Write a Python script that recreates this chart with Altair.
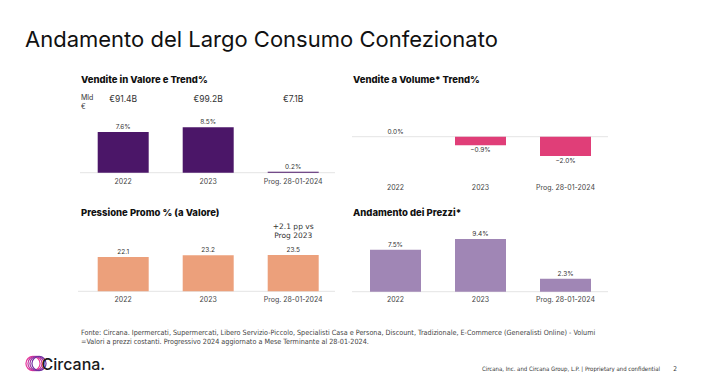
import altair as alt
import pandas as pd

# ---------------- data ----------------
categories = ["2022", "2023", "Prog. 28-01-2024"]
valore_trend = [7.6, 8.5, 0.2]
valore_mld = ["€91.4B", "€99.2B", "€7.1B"]
volume_trend = [0.0, -0.9, -2.0]
promo = [22.1, 23.2, 23.5]
prezzi = [7.5, 9.4, 2.3]

title_text = "Andamento del Largo Consumo Confezionato"
panel_titles = ["Vendite in Valore e Trend%", "Vendite a Volume* Trend%",
                "Pressione Promo % (a Valore)", "Andamento dei Prezzi*"]
unit_label = ["Mld", "€"]
promo_note = ["+2.1 pp vs", "Prog 2023"]
footer_lines = [
    "Fonte: Circana. Ipermercati, Supermercati, Libero Servizio-Piccolo, Specialisti Casa e Persona, Discount, Tradizionale, E-Commerce (Generalisti Online) - Volumi",
    "=Valori a prezzi costanti. Progressivo 2024 aggiornato a Mese Terminante al 28-01-2024.",
]
brand = "Circana."
copyright_text = "Circana, Inc. and Circana Group, L.P. | Proprietary and confidential"
page_number = "2"
logo_colors = ["#e8379a", "#c1359f", "#9a34a3", "#7030a0"]

df = pd.DataFrame({
    "cat": categories,
    "valore": valore_trend,
    "mld": valore_mld,
    "volume": volume_trend,
    "promo": promo,
    "prezzi": prezzi,
})

# ---------------- style ----------------
FONT = "Inter, Lato, sans-serif"
NARROW = "Liberation Sans Narrow, DejaVu Sans Condensed, Roboto, sans-serif"
C_VAL = "#4b1668"
C_VOL = "#e03e78"
C_PROMO = "#eca07b"
C_PREZZI = "#a086b5"
C_RULE = "#e4e4e4"
C_TXT = "#333333"

LEFT_X = [72.7, 327.7]
RIGHT_X = [345.0, 600.0]


def xenc(rng):
    return alt.X("cat:N", sort=categories, axis=None,
                 scale=alt.Scale(domain=categories, range=rng,
                                 paddingInner=0.4, paddingOuter=0.2))


def yenc(field, dom, rng):
    return alt.Y(f"{field}:Q", axis=None,
                 scale=alt.Scale(domain=dom, range=rng, nice=False))


def static_text(text, x, y, **kw):
    return alt.Chart(pd.DataFrame({"t": [text]})).mark_text(**kw).encode(
        x=alt.value(x), y=alt.value(y), text="t:N")


def panel(field, color, xr, dom, yr, rule_x, cat_y, fmt_pct=True):
    base = alt.Chart(df).transform_calculate(
        lab=(f"format(datum.{field}, '.1f') + '%'" if fmt_pct
             else f"format(datum.{field}, '.1f')")
    )
    rule = alt.Chart(pd.DataFrame({"z": [0]})).mark_rule(
        color=C_RULE, strokeWidth=1).encode(
        y=alt.Y("z:Q", axis=None, scale=alt.Scale(domain=dom, range=yr, nice=False)),
        x=alt.value(rule_x[0]), x2=alt.value(rule_x[1]))
    bars = base.mark_bar(color=color).encode(
        x=xenc(xr), y=yenc(field, dom, yr))
    pos = base.transform_filter(f"datum.{field} >= 0").mark_text(
        baseline="bottom", dy=-2, fontSize=6.5, color=C_TXT, font=FONT).encode(
        x=xenc(xr), y=yenc(field, dom, yr), text="lab:N")
    neg = base.transform_filter(f"datum.{field} < 0").mark_text(
        baseline="top", dy=2, fontSize=6.5, color=C_TXT, font=FONT).encode(
        x=xenc(xr), y=yenc(field, dom, yr), text="lab:N")
    cats = alt.Chart(df).mark_text(
        baseline="middle", fontSize=7, color="#444444", font=FONT).encode(
        x=xenc(xr), y=alt.value(cat_y), text="cat:N")
    return [rule, bars, pos, neg, cats]


layers = []
# Panel 1: Vendite in Valore
layers += panel("valore", C_VAL, LEFT_X, [0, 10], [164.7, 111.2], [72, 327], 173.7)
layers.append(alt.Chart(df).mark_text(fontSize=8.5, color=C_TXT, font=FONT, baseline="middle").encode(
    x=xenc(LEFT_X), y=alt.value(91.3), text="mld:N"))
layers.append(static_text(unit_label[0], 73, 90, fontSize=7, color=C_TXT, font=FONT,
                          align="left", baseline="middle"))
layers.append(static_text(unit_label[1], 73, 98.5, fontSize=7, color=C_TXT, font=FONT,
                          align="left", baseline="middle"))
# Panel 2: Volume
layers += panel("volume", C_VOL, RIGHT_X, [-3, 1], [157.5, 119.1], [344, 600], 179.7)
# Panel 3: Promo
layers += panel("promo", C_PROMO, LEFT_X, [0, 30], [283.3, 236.8], [70, 327], 292, fmt_pct=False)
layers.append(alt.Chart(pd.DataFrame({"cat": [categories[2]], "t": [promo_note[0]]})).mark_text(
    fontSize=7.5, color=C_TXT, font="DejaVu Sans, sans-serif", baseline="middle").encode(
    x=xenc(LEFT_X), y=alt.value(218.5), text="t:N"))
layers.append(alt.Chart(pd.DataFrame({"cat": [categories[2]], "t": [promo_note[1]]})).mark_text(
    fontSize=7.5, color=C_TXT, font="DejaVu Sans, sans-serif", baseline="middle").encode(
    x=xenc(LEFT_X), y=alt.value(227.5), text="t:N"))
# Panel 4: Prezzi
layers += panel("prezzi", C_PREZZI, RIGHT_X, [0, 10], [283.7, 227.7], [344, 600], 292)

# Titles
layers.append(static_text(title_text, 17, 38.5, fontSize=22, color="#111111", font=FONT,
                          align="left", baseline="alphabetic"))
for t, (x, y) in zip(panel_titles, [(73, 72), (345, 72), (73, 205), (345, 205)]):
    layers.append(static_text(t, x, y, fontSize=9.5, fontWeight=800, color="#111111",
                              font=FONT, align="left", baseline="middle"))

# Footer
for t, y in zip(footer_lines, [325, 334]):
    layers.append(static_text(t, 73, y, fontSize=7.2, color="#444444", font=NARROW,
                              align="left", baseline="middle"))
layers.append(static_text(copyright_text, 652, 364, fontSize=6, color="#333333", font=NARROW,
                          align="right", baseline="bottom"))
layers.append(static_text(page_number, 667, 364, fontSize=6.5, color="#333333", font=NARROW,
                          align="center", baseline="bottom"))

# Logo
logo_df = pd.DataFrame({"i": list(range(len(logo_colors))), "c": logo_colors})
layers.append(alt.Chart(logo_df).mark_point(shape="circle", filled=False, size=200,
                                            strokeWidth=1.2, opacity=1).encode(
    x=alt.X("i:Q", axis=None, scale=alt.Scale(domain=[0, len(logo_colors) - 1], range=[25, 31])),
    y=alt.value(355.5),
    color=alt.Color("c:N", scale=None, legend=None)))
layers.append(static_text(brand, 33.5, 361.5, fontSize=16, color="#1a1a1a", font=FONT,
                          fontWeight=500, align="left", baseline="alphabetic"))

chart = alt.layer(*layers).resolve_scale(
    x="independent", y="independent", color="independent"
).properties(
    width=685, height=364, padding=0,
    autosize=alt.AutoSizeParams(type="none"),
    background="white",
).configure_view(stroke=None)

chart.save("out.html", embed_options={"renderer": "svg", "actions": False})
